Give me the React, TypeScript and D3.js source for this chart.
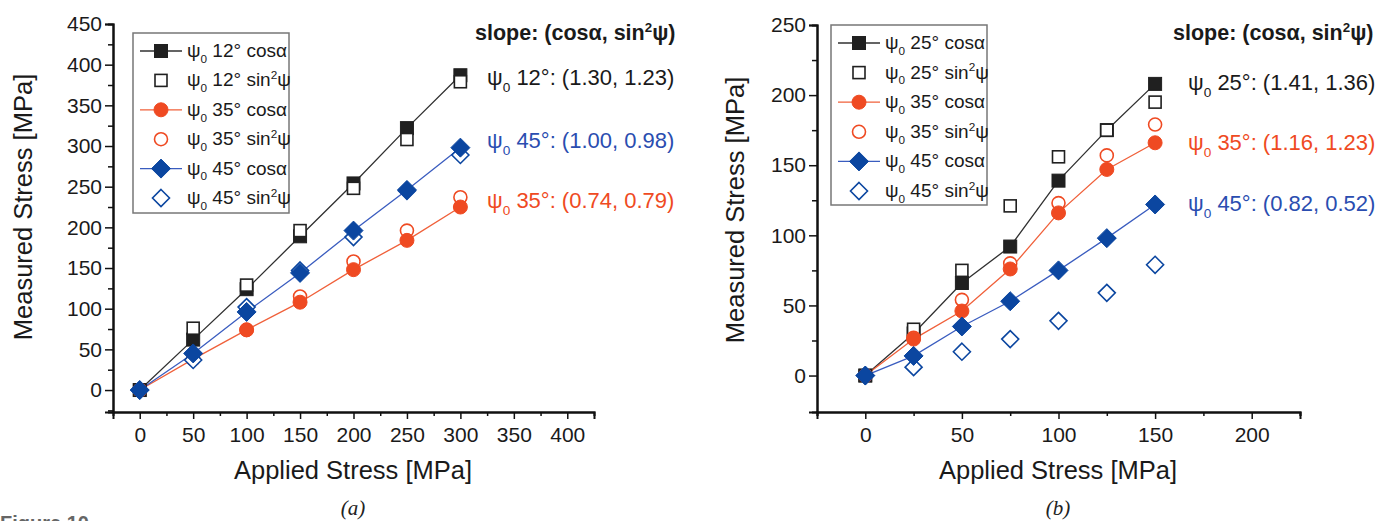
import React, { useRef, useEffect } from 'react';
import * as d3 from 'd3';

// panel (a): applied stress and measured stress per series
const appliedA = [0, 50, 100, 150, 200, 250, 300];
const psi12Cos = [0, 62, 124, 189, 254, 322, 387];
const psi12Sin = [0, 76, 129, 196, 248, 308, 379];
const psi35CosA = [0, 38, 74, 108, 148, 184, 225];
const psi35SinA = [0, 38, 74, 115, 158, 196, 237];
const psi45CosA = [0, 45, 96, 144, 196, 246, 298];
const psi45SinA = [0, 37, 102, 147, 188, 245, 289];

// panel (b)
const appliedB = [0, 25, 50, 75, 100, 125, 150];
const psi25Cos = [0, 30, 66, 92, 139, 175, 208];
const psi25Sin = [0, 33, 75, 121, 156, 175, 195];
const psi35CosB = [0, 26, 46, 76, 116, 147, 166];
const psi35SinB = [0, 27, 54, 80, 123, 157, 179];
const psi45CosB = [0, 14, 35, 53, 75, 98, 122];
const psi45SinB = [0, 6, 17, 26, 39, 59, 79];

// tick labels
const xTicksA = [0, 50, 100, 150, 200, 250, 300, 350, 400];
const xMinorA = [25, 75, 125, 175, 225, 275, 325, 375];
const yTicksA = [0, 50, 100, 150, 200, 250, 300, 350, 400, 450];
const yMinorA = [-25, 25, 75, 125, 175, 225, 275, 325, 375, 425];
const xTicksB = [0, 50, 100, 150, 200];
const xMinorB = [-25, 25, 75, 125, 175, 225];
const yTicksB = [0, 50, 100, 150, 200, 250];
const yMinorB = [25, 75, 125, 175, 225];

// slope annotations
const slopesA = [
  { angle: '12°', text: ': (1.30, 1.23)', key: 'k' },
  { angle: '45°', text: ': (1.00, 0.98)', key: 'b' },
  { angle: '35°', text: ': (0.74, 0.79)', key: 'r' },
];
const slopesB = [
  { angle: '25°', text: ': (1.41, 1.36)', key: 'k' },
  { angle: '35°', text: ': (1.16, 1.23)', key: 'r' },
  { angle: '45°', text: ': (0.82, 0.52)', key: 'b' },
];

const COL: any = {
  k: { mark: '#202020', line: '#303030', text: '#1a1a1a' },
  r: { mark: '#ef4a22', line: '#f0603a', text: '#ef4a22' },
  b: { mark: '#0b46a0', line: '#3a5cbf', text: '#2a4db0' },
};

const FONT = '"Liberation Sans", Arial, sans-serif';

type Seg = { t: string; sub?: boolean; sup?: boolean };

function richText(sel: any, segs: Seg[], size: number) {
  let off = 0;
  segs.forEach((s) => {
    const ts = sel.append('tspan').text(s.t);
    const cur = s.sub ? size * 0.3 : s.sup ? -size * 0.38 : 0;
    if (s.sub || s.sup) ts.attr('font-size', size * 0.62);
    if (cur - off !== 0) ts.attr('dy', cur - off);
    off = cur;
  });
}

function marker(g: any, shape: string, filled: boolean, color: string, x: number, y: number) {
  const fill = filled ? color : '#fff';
  const sw = filled ? 1 : 1.6;
  if (shape === 'square') {
    const h = filled ? 6.5 : 6;
    g.append('rect').attr('x', x - h).attr('y', y - h).attr('width', 2 * h).attr('height', 2 * h)
      .attr('fill', fill).attr('stroke', color).attr('stroke-width', sw);
  } else if (shape === 'circle') {
    g.append('circle').attr('cx', x).attr('cy', y).attr('r', filled ? 7 : 6.5)
      .attr('fill', fill).attr('stroke', color).attr('stroke-width', sw);
  } else {
    const h = filled ? 9.5 : 8.5;
    g.append('path').attr('d', `M${x},${y - h}L${x + h},${y}L${x},${y + h}L${x - h},${y}Z`)
      .attr('fill', fill).attr('stroke', color).attr('stroke-width', sw);
  }
}

function drawPanel(svg: any, cfg: any) {
  const x = d3.scaleLinear().domain(cfg.xDomain).range(cfg.xRange);
  const y = d3.scaleLinear().domain(cfg.yDomain).range(cfg.yRange);
  const g = svg.append('g');
  const x0 = cfg.xRange[0];
  const y0 = cfg.yRange[0];

  // axes
  const ax = (a: any) => a.attr('font-family', FONT).attr('font-size', 21);
  const yMaj = g.append('g').attr('transform', `translate(${x0},0)`)
    .call(d3.axisLeft(y).tickValues(cfg.yTicks).tickSize(8).tickPadding(3).tickFormat(d3.format('d')));
  ax(yMaj);
  g.append('g').attr('transform', `translate(${x0},0)`)
    .call(d3.axisLeft(y).tickValues(cfg.yMinor).tickSize(5).tickFormat(() => ''));
  const xMaj = g.append('g').attr('transform', `translate(0,${y0})`)
    .call(d3.axisBottom(x).tickValues(cfg.xTicks).tickSize(7).tickPadding(8).tickFormat(d3.format('d')));
  ax(xMaj);
  g.append('g').attr('transform', `translate(0,${y0})`)
    .call(d3.axisBottom(x).tickValues(cfg.xMinor).tickSize(4).tickFormat(() => ''));
  g.selectAll('.domain').attr('stroke', '#111').attr('stroke-width', 2);
  g.selectAll('.tick line').attr('stroke', '#111').attr('stroke-width', 1.5);
  g.selectAll('.tick text').attr('fill', '#1a1a1a');

  // axis titles
  g.append('text').attr('x', cfg.titleX).attr('y', 479)
    .attr('text-anchor', 'middle').attr('font-family', FONT).attr('font-size', 25.5).attr('fill', '#1a1a1a')
    .text('Applied Stress [MPa]');
  g.append('text').attr('transform', `translate(${cfg.yTitleX},${cfg.yTitleY}) rotate(-90)`)
    .attr('text-anchor', 'middle').attr('font-family', FONT).attr('font-size', 25.5).attr('fill', '#1a1a1a')
    .text('Measured Stress [MPa]');
  g.append('text').attr('x', cfg.capX).attr('y', 515).attr('text-anchor', 'middle')
    .attr('font-family', '"Liberation Serif", "Times New Roman", serif').attr('font-style', 'italic')
    .attr('font-size', 21).attr('fill', '#222').text(cfg.caption);

  // lines (cosα only)
  const line = d3.line<any>().x((d) => x(d[0])).y((d) => y(d[1]));
  cfg.series.filter((s: any) => s.filled).forEach((s: any) => {
    g.append('path').datum(cfg.applied.map((a: number, i: number) => [a, s.values[i]]))
      .attr('d', line).attr('fill', 'none').attr('stroke', COL[s.c].line).attr('stroke-width', 1.3);
  });
  // markers
  cfg.drawOrder.forEach((idx: number) => {
    const s = cfg.series[idx];
    cfg.applied.forEach((a: number, i: number) => marker(g, s.shape, s.filled, COL[s.c].mark, x(a), y(s.values[i])));
  });

  // legend
  const L = cfg.legend;
  g.append('rect').attr('x', L.x).attr('y', L.y).attr('width', L.w).attr('height', L.h)
    .attr('fill', '#fff').attr('stroke', '#777').attr('stroke-width', 1.5);
  cfg.series.forEach((s: any, i: number) => {
    const cy = L.y + L.first + i * L.step;
    const mx = L.x + 28;
    if (s.filled) {
      g.append('line').attr('x1', mx - 21).attr('x2', mx + 21).attr('y1', cy).attr('y2', cy)
        .attr('stroke', COL[s.c].line).attr('stroke-width', 1.3);
    }
    marker(g, s.shape, s.filled, COL[s.c].mark, mx, cy);
    const t = g.append('text').attr('x', L.x + 54).attr('y', cy + 6).attr('font-family', FONT)
      .attr('font-size', 19).attr('fill', '#1a1a1a');
    const segs: Seg[] = [{ t: 'ψ' }, { t: '0', sub: true }, { t: ` ${s.angle} ` }];
    if (s.filled) segs.push({ t: 'cosα' });
    else segs.push({ t: 'sin' }, { t: '2', sup: true }, { t: 'ψ' });
    richText(t, segs, 19);
  });

  // slope annotations
  const hd = g.append('text').attr('x', cfg.slopeX).attr('y', 40).attr('font-family', FONT)
    .attr('font-size', 21.5).attr('font-weight', 'bold').attr('fill', '#1a1a1a');
  richText(hd, [{ t: 'slope: (cosα, sin' }, { t: '2', sup: true }, { t: 'ψ)' }], 21.5);
  cfg.slopes.forEach((s: any, i: number) => {
    const t = g.append('text').attr('x', cfg.slopeX + cfg.slopeIndent).attr('y', cfg.slopeY[i])
      .attr('font-family', FONT).attr('font-size', 22).attr('fill', COL[s.key].text);
    richText(t, [{ t: 'ψ' }, { t: '0', sub: true }, { t: ` ${s.angle}${s.text}` }], 22);
  });
}

const App = () => {
  const ref = useRef<SVGSVGElement>(null);

  useEffect(() => {
    const svg = d3.select(ref.current);
    svg.selectAll('*').remove();

    drawPanel(svg, {
      xDomain: [-25, 425], xRange: [113, 594],
      yDomain: [-27, 450], yRange: [412, 24],
      xTicks: xTicksA, xMinor: xMinorA, yTicks: yTicksA, yMinor: yMinorA,
      applied: appliedA,
      series: [
        { c: 'k', shape: 'square', filled: true, angle: '12°', values: psi12Cos },
        { c: 'k', shape: 'square', filled: false, angle: '12°', values: psi12Sin },
        { c: 'r', shape: 'circle', filled: true, angle: '35°', values: psi35CosA },
        { c: 'r', shape: 'circle', filled: false, angle: '35°', values: psi35SinA },
        { c: 'b', shape: 'diamond', filled: true, angle: '45°', values: psi45CosA },
        { c: 'b', shape: 'diamond', filled: false, angle: '45°', values: psi45SinA },
      ],
      drawOrder: [0, 1, 3, 2, 5, 4],
      legend: { x: 133, y: 33, w: 156, h: 180, first: 18, step: 29.4 },
      slopes: slopesA, slopeX: 475, slopeIndent: 12, slopeY: [85, 148, 208],
      titleX: 353, yTitleX: 32, yTitleY: 207, capX: 353, caption: '(a)',
    });

    drawPanel(svg, {
      xDomain: [-25, 225], xRange: [817, 1300],
      yDomain: [-26, 250], yRange: [412, 25],
      xTicks: xTicksB, xMinor: xMinorB, yTicks: yTicksB, yMinor: yMinorB,
      applied: appliedB,
      series: [
        { c: 'k', shape: 'square', filled: true, angle: '25°', values: psi25Cos },
        { c: 'k', shape: 'square', filled: false, angle: '25°', values: psi25Sin },
        { c: 'r', shape: 'circle', filled: true, angle: '35°', values: psi35CosB },
        { c: 'r', shape: 'circle', filled: false, angle: '35°', values: psi35SinB },
        { c: 'b', shape: 'diamond', filled: true, angle: '45°', values: psi45CosB },
        { c: 'b', shape: 'diamond', filled: false, angle: '45°', values: psi45SinB },
      ],
      drawOrder: [0, 1, 3, 2, 5, 4],
      legend: { x: 831, y: 25, w: 156, h: 180, first: 18, step: 29.6 },
      slopes: slopesB, slopeX: 1173, slopeIndent: 15, slopeY: [90, 150, 211],
      titleX: 1058, yTitleX: 744, yTitleY: 210, capX: 1058, caption: '(b)',
    });

    // figure label, only its top shows at the bottom edge as in the source
    svg.append('text').attr('x', 0).attr('y', 530).attr('font-family', FONT).attr('font-weight', 'bold')
      .attr('font-size', 20).attr('fill', '#666').text('Figure 10');
  }, []);

  return (
    <div style={{ position: 'absolute', left: 0, top: 0, width: 1375, height: 521, background: '#fff' }}>
      <svg ref={ref} width={1375} height={521} style={{ display: 'block' }} />
    </div>
  );
};

export default App;
